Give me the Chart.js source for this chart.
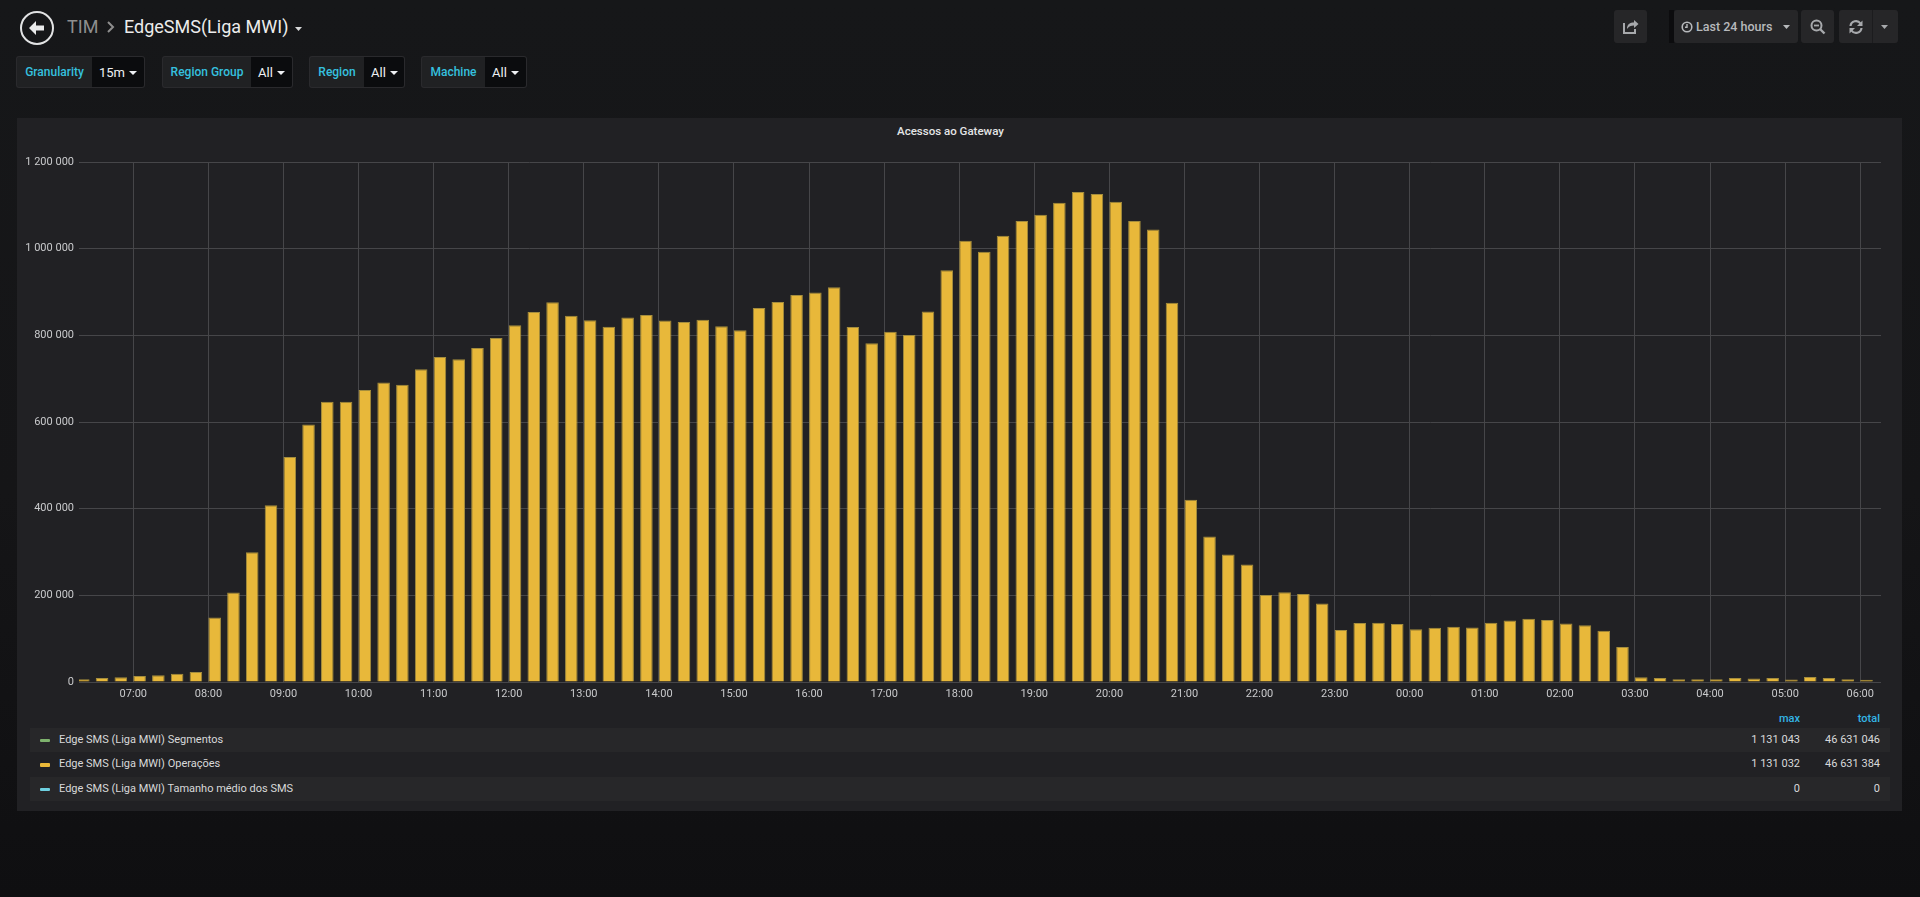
<!DOCTYPE html>
<html>
<head>
<meta charset="utf-8">
<title>EdgeSMS(Liga MWI)</title>
<script src="https://cdn.jsdelivr.net/npm/chart.js@4.4.0/dist/chart.umd.min.js"></script>
<style>
  html, body { margin: 0; padding: 0; }
  body {
    width: 1920px; height: 897px; position: relative; overflow: hidden;
    background: linear-gradient(#161719 0%, #151517 55%, #0f0f11 100%);
    font-family: Roboto, "Helvetica Neue", Arial, sans-serif; color: #d8d9da;
  }
  .abs { position: absolute; }
  .crumb { top: 16px; font-size: 18px; line-height: 22px; }
  .vlabel, .vvalue { position: absolute; top: 56px; height: 32px; line-height: 31px; box-sizing: border-box; }
  .vlabel { background: #202123; color: #35c0df; font-size: 12px; font-weight: 500; text-align: center; border: 1px solid #2a2a2d; border-right: 0; border-radius: 3px 0 0 3px; }
  .vvalue { background: #0b0c0e; color: #eef0f3; font-size: 13px; padding-left: 7px; border: 1px solid #2a2a2d; border-left: 0; border-radius: 0 3px 3px 0; }
  .caret { display: inline-block; width: 0; height: 0; border-left: 4px solid transparent; border-right: 4px solid transparent; border-top: 4px solid currentColor; vertical-align: middle; margin-left: 4px; margin-top: -2px; }
  .btn { position: absolute; top: 10px; height: 33px; background: #262628; border-radius: 3px; color: #b7b9bc; box-sizing: border-box; }
  .btn svg { position: absolute; }
  #panel { left: 17px; top: 118px; width: 1885px; height: 693px; background: #212124; }
  #ptitle { left: 8px; top: 123px; width: 1885px; text-align: center; font-size: 11.5px; font-weight: 500; line-height: 16px; color: #e4e5e6; }
  #chartBox { left: 20px; top: 150px; width: 1870px; height: 560px; }
  .lhead { top: 712px; font-size: 11px; font-weight: 500; color: #33b5e5; text-align: right; line-height: 14px; }
  .lrow { position: absolute; left: 30px; width: 1860px; height: 24.5px; font-size: 11px; line-height: 24.5px; color: #d8d9da; }
  .lrow.odd { background: #272729; }
  .lrow .sw { position: absolute; left: 10px; top: 11px; width: 10px; height: 3.5px; border-radius: 1px; }
  .lrow .nm { position: absolute; left: 29px; }
  .lrow .mx { position: absolute; right: 90px; }
  .lrow .tt { position: absolute; right: 10px; }
</style>
</head>
<body>

<!-- header -->
<div class="abs" style="left:20px;top:11px;width:34px;height:34px;border:2px solid #e2e3e4;border-radius:50%;box-sizing:border-box;">
  <svg width="30" height="30" viewBox="0 0 30 30" style="position:absolute;left:0;top:0">
    <path d="M7 15 L14 8 L14 12.5 L22 12.5 L22 17.5 L14 17.5 L14 22 Z" fill="#e9eaeb"/>
  </svg>
</div>
<div class="abs crumb" style="left:67px;color:#8e8e8e;">TIM</div>
<svg class="abs" style="left:106px;top:20px" width="10" height="14"><polyline points="2,2 7,7 2,12" fill="none" stroke="#8e8e8e" stroke-width="2"/></svg>
<div class="abs crumb" style="left:124px;color:#ececec;">EdgeSMS(Liga MWI)</div>
<svg class="abs" style="left:295px;top:27px" width="8" height="5"><polygon points="0,0 7,0 3.5,4" fill="#d8d9da"/></svg>

<!-- variables -->
<div class="vlabel" style="left:16px;width:76px;">Granularity</div>
<div class="vvalue" style="left:92px;width:53px;">15m<span class="caret"></span></div>
<div class="vlabel" style="left:162px;width:89px;">Region Group</div>
<div class="vvalue" style="left:251px;width:42px;">All<span class="caret"></span></div>
<div class="vlabel" style="left:309px;width:55px;">Region</div>
<div class="vvalue" style="left:364px;width:41px;">All<span class="caret"></span></div>
<div class="vlabel" style="left:421px;width:64px;">Machine</div>
<div class="vvalue" style="left:485px;width:42px;">All<span class="caret"></span></div>

<!-- top right buttons -->
<div class="btn" style="left:1614px;width:33px;">
  <svg style="left:8px;top:8px" width="18" height="17" viewBox="0 0 18 17">
    <path d="M2 5 V15 H13 V11" fill="none" stroke="#a7a9ac" stroke-width="2"/>
    <path d="M5 11 C5 6 8 4.5 12 4.5 V2 L16.5 6 L12 10 V7.5 C9 7.5 6.5 8.5 5 11 Z" fill="#a7a9ac"/>
  </svg>
</div>
<div class="abs" style="left:1669px;top:10px;width:5px;height:33px;background:#0c0c0e;"></div>
<div class="btn" style="left:1674px;width:124px;">
  <svg style="left:7px;top:11px" width="12" height="12" viewBox="0 0 12 12">
    <circle cx="6" cy="6" r="4.8" fill="none" stroke="#b7b9bc" stroke-width="1.6"/>
    <polyline points="6,3 6,6.3 4,6.3" fill="none" stroke="#b7b9bc" stroke-width="1.4"/>
  </svg>
  <span style="position:absolute;left:22px;top:0;line-height:33px;font-size:12.5px;font-weight:500;">Last 24 hours</span>
  <svg style="left:109px;top:15px" width="8" height="5"><polygon points="0,0 7,0 3.5,4" fill="#b7b9bc"/></svg>
</div>
<div class="btn" style="left:1801px;width:33px;">
  <svg style="left:9px;top:9px" width="16" height="16" viewBox="0 0 16 16">
    <circle cx="6.5" cy="6.5" r="5" fill="none" stroke="#a7a9ac" stroke-width="2"/>
    <line x1="4" y1="6.5" x2="9" y2="6.5" stroke="#a7a9ac" stroke-width="1.8"/>
    <line x1="10" y1="10" x2="14.5" y2="14.5" stroke="#a7a9ac" stroke-width="2.4"/>
  </svg>
</div>
<div class="btn" style="left:1839px;width:59px;">
  <svg style="left:9px;top:9px" width="16" height="16" viewBox="0 0 16 16">
    <path d="M2.5 7 A5.5 5.5 0 0 1 12.5 4.5" fill="none" stroke="#a7a9ac" stroke-width="2.2"/>
    <polygon points="14.5,1.5 14.5,7 9,7" fill="#a7a9ac"/>
    <path d="M13.5 9 A5.5 5.5 0 0 1 3.5 11.5" fill="none" stroke="#a7a9ac" stroke-width="2.2"/>
    <polygon points="1.5,14.5 1.5,9 7,9" fill="#a7a9ac"/>
  </svg>
  <div style="position:absolute;left:33px;top:0;width:1px;height:33px;background:#1c1c1e;"></div>
  <svg style="left:42px;top:15px" width="8" height="5"><polygon points="0,0 7,0 3.5,4" fill="#a7a9ac"/></svg>
</div>

<!-- panel -->
<div id="panel" class="abs"></div>
<div id="ptitle" class="abs">Acessos ao Gateway</div>
<div id="chartBox" class="abs"><canvas id="gwChart"></canvas></div>

<div class="abs lhead" style="left:1740px;width:60px;">max</div>
<div class="abs lhead" style="left:1820px;width:60px;">total</div>
<div id="legend"></div>

<script>
// Operações per 15 min slot, 06:15 .. 06:00 (next day)
var operacoes = [
  6500, 9000, 10700,
  14000, 15600, 19000, 23000,
  149000, 206600, 299600, 408000,
  519000, 594000, 647000, 647000,
  674000, 691000, 686000, 722000,
  750000, 745000, 771000, 794000,
  823000, 854000, 876500, 845000,
  834600, 820000, 841000, 847000,
  834000, 831000, 836000, 821000,
  812000, 863000, 877000, 893000,
  899000, 911000, 819000, 782000,
  808000, 801000, 855000, 950000,
  1018000, 993000, 1030000, 1064000,
  1078000, 1106000, 1131032, 1126000,
  1108000, 1064000, 1044000, 875000,
  420600, 336000, 294000, 271000,
  201000, 207000, 203000, 181000,
  120000, 136000, 137000, 134000,
  122000, 125000, 127600, 126000,
  136600, 142000, 145700, 143000,
  135000, 131000, 118500, 80700,
  10700, 9000, 6600, 6600,
  6600, 9000, 8000, 9000,
  5800, 11500, 9000, 6600,
  5000
];
var firstSlot = 15;      // minutes after 06:00
var slotMinutes = 15;

var xTickLabels = ['07:00','08:00','09:00','10:00','11:00','12:00','13:00','14:00','15:00','16:00','17:00','18:00',
                   '19:00','20:00','21:00','22:00','23:00','00:00','01:00','02:00','03:00','04:00','05:00','06:00'];
var yTickLabels = ['0','200 000','400 000','600 000','800 000','1 000 000','1 200 000'];

var seriesNames = ['Edge SMS (Liga MWI) Segmentos', 'Edge SMS (Liga MWI) Operações', 'Edge SMS (Liga MWI) Tamanho médio dos SMS'];
var seriesColors = ['#7eb26d', '#eab839', '#6ed0e0'];
var seriesMax = ['1 131 043', '1 131 032', '0'];
var seriesTotal = ['46 631 046', '46 631 384', '0'];

// legend table
var legend = document.getElementById('legend');
for (var i = 0; i < seriesNames.length; i++) {
  var row = document.createElement('div');
  row.className = 'lrow' + (i % 2 == 0 ? ' odd' : '');
  row.style.top = (727.7 + i * 24.5) + 'px';
  row.innerHTML = '<span class="sw" style="background:' + seriesColors[i] + '"></span>' +
    '<span class="nm">' + seriesNames[i] + '</span>' +
    '<span class="mx">' + seriesMax[i] + '</span>' +
    '<span class="tt">' + seriesTotal[i] + '</span>';
  legend.appendChild(row);
}

var barPct = 0.67;
// bars start at their timestamp, so shift centre by half a bar
var points = operacoes.map(function (v, i) {
  return { x: firstSlot + i * slotMinutes + slotMinutes * barPct / 2, y: v };
});

Chart.defaults.font.family = 'Roboto';
var tickColor = '#c9cacc';
var gridColor = '#464649';

var ctx = document.getElementById('gwChart').getContext('2d');
var gwChart = new Chart(ctx, {
  type: 'bar',
  data: {
    datasets: [{
      label: seriesNames[1],
      data: points,
      backgroundColor: '#e8b83a',
      borderColor: '#a48d3d',
      borderWidth: 1,
      barPercentage: barPct,
      categoryPercentage: 1,
      clip: 0
    }]
  },
  options: {
    responsive: true,
    maintainAspectRatio: false,
    animation: false,
    layout: { padding: { top: 12, right: 9, left: 0, bottom: 0 } },
    plugins: { legend: { display: false }, tooltip: { enabled: false } },
    scales: {
      x: {
        type: 'linear',
        min: 16.6,
        max: 1456.6,
        offset: false,
        grid: { color: gridColor, drawTicks: false, offset: false },
        border: { display: false },
        ticks: {
          color: tickColor, font: { size: 11 }, padding: 6,
          maxRotation: 0, autoSkip: false,
          callback: function (v, idx) { return xTickLabels[idx]; }
        },
        afterBuildTicks: function (axis) {
          axis.ticks = xTickLabels.map(function (l, i) { return { value: 60 * (i + 1) }; });
        },
        afterFit: function (axis) { axis.height = 28; }
      },
      y: {
        min: 0,
        max: 1200000,
        grid: { color: gridColor, drawTicks: false },
        border: { display: false },
        ticks: {
          stepSize: 200000, color: tickColor, font: { size: 11 }, padding: 5,
          callback: function (v, idx) { return yTickLabels[idx]; }
        },
        afterFit: function (axis) { axis.width = 59; }
      }
    }
  }
});
</script>
</body>
</html>
